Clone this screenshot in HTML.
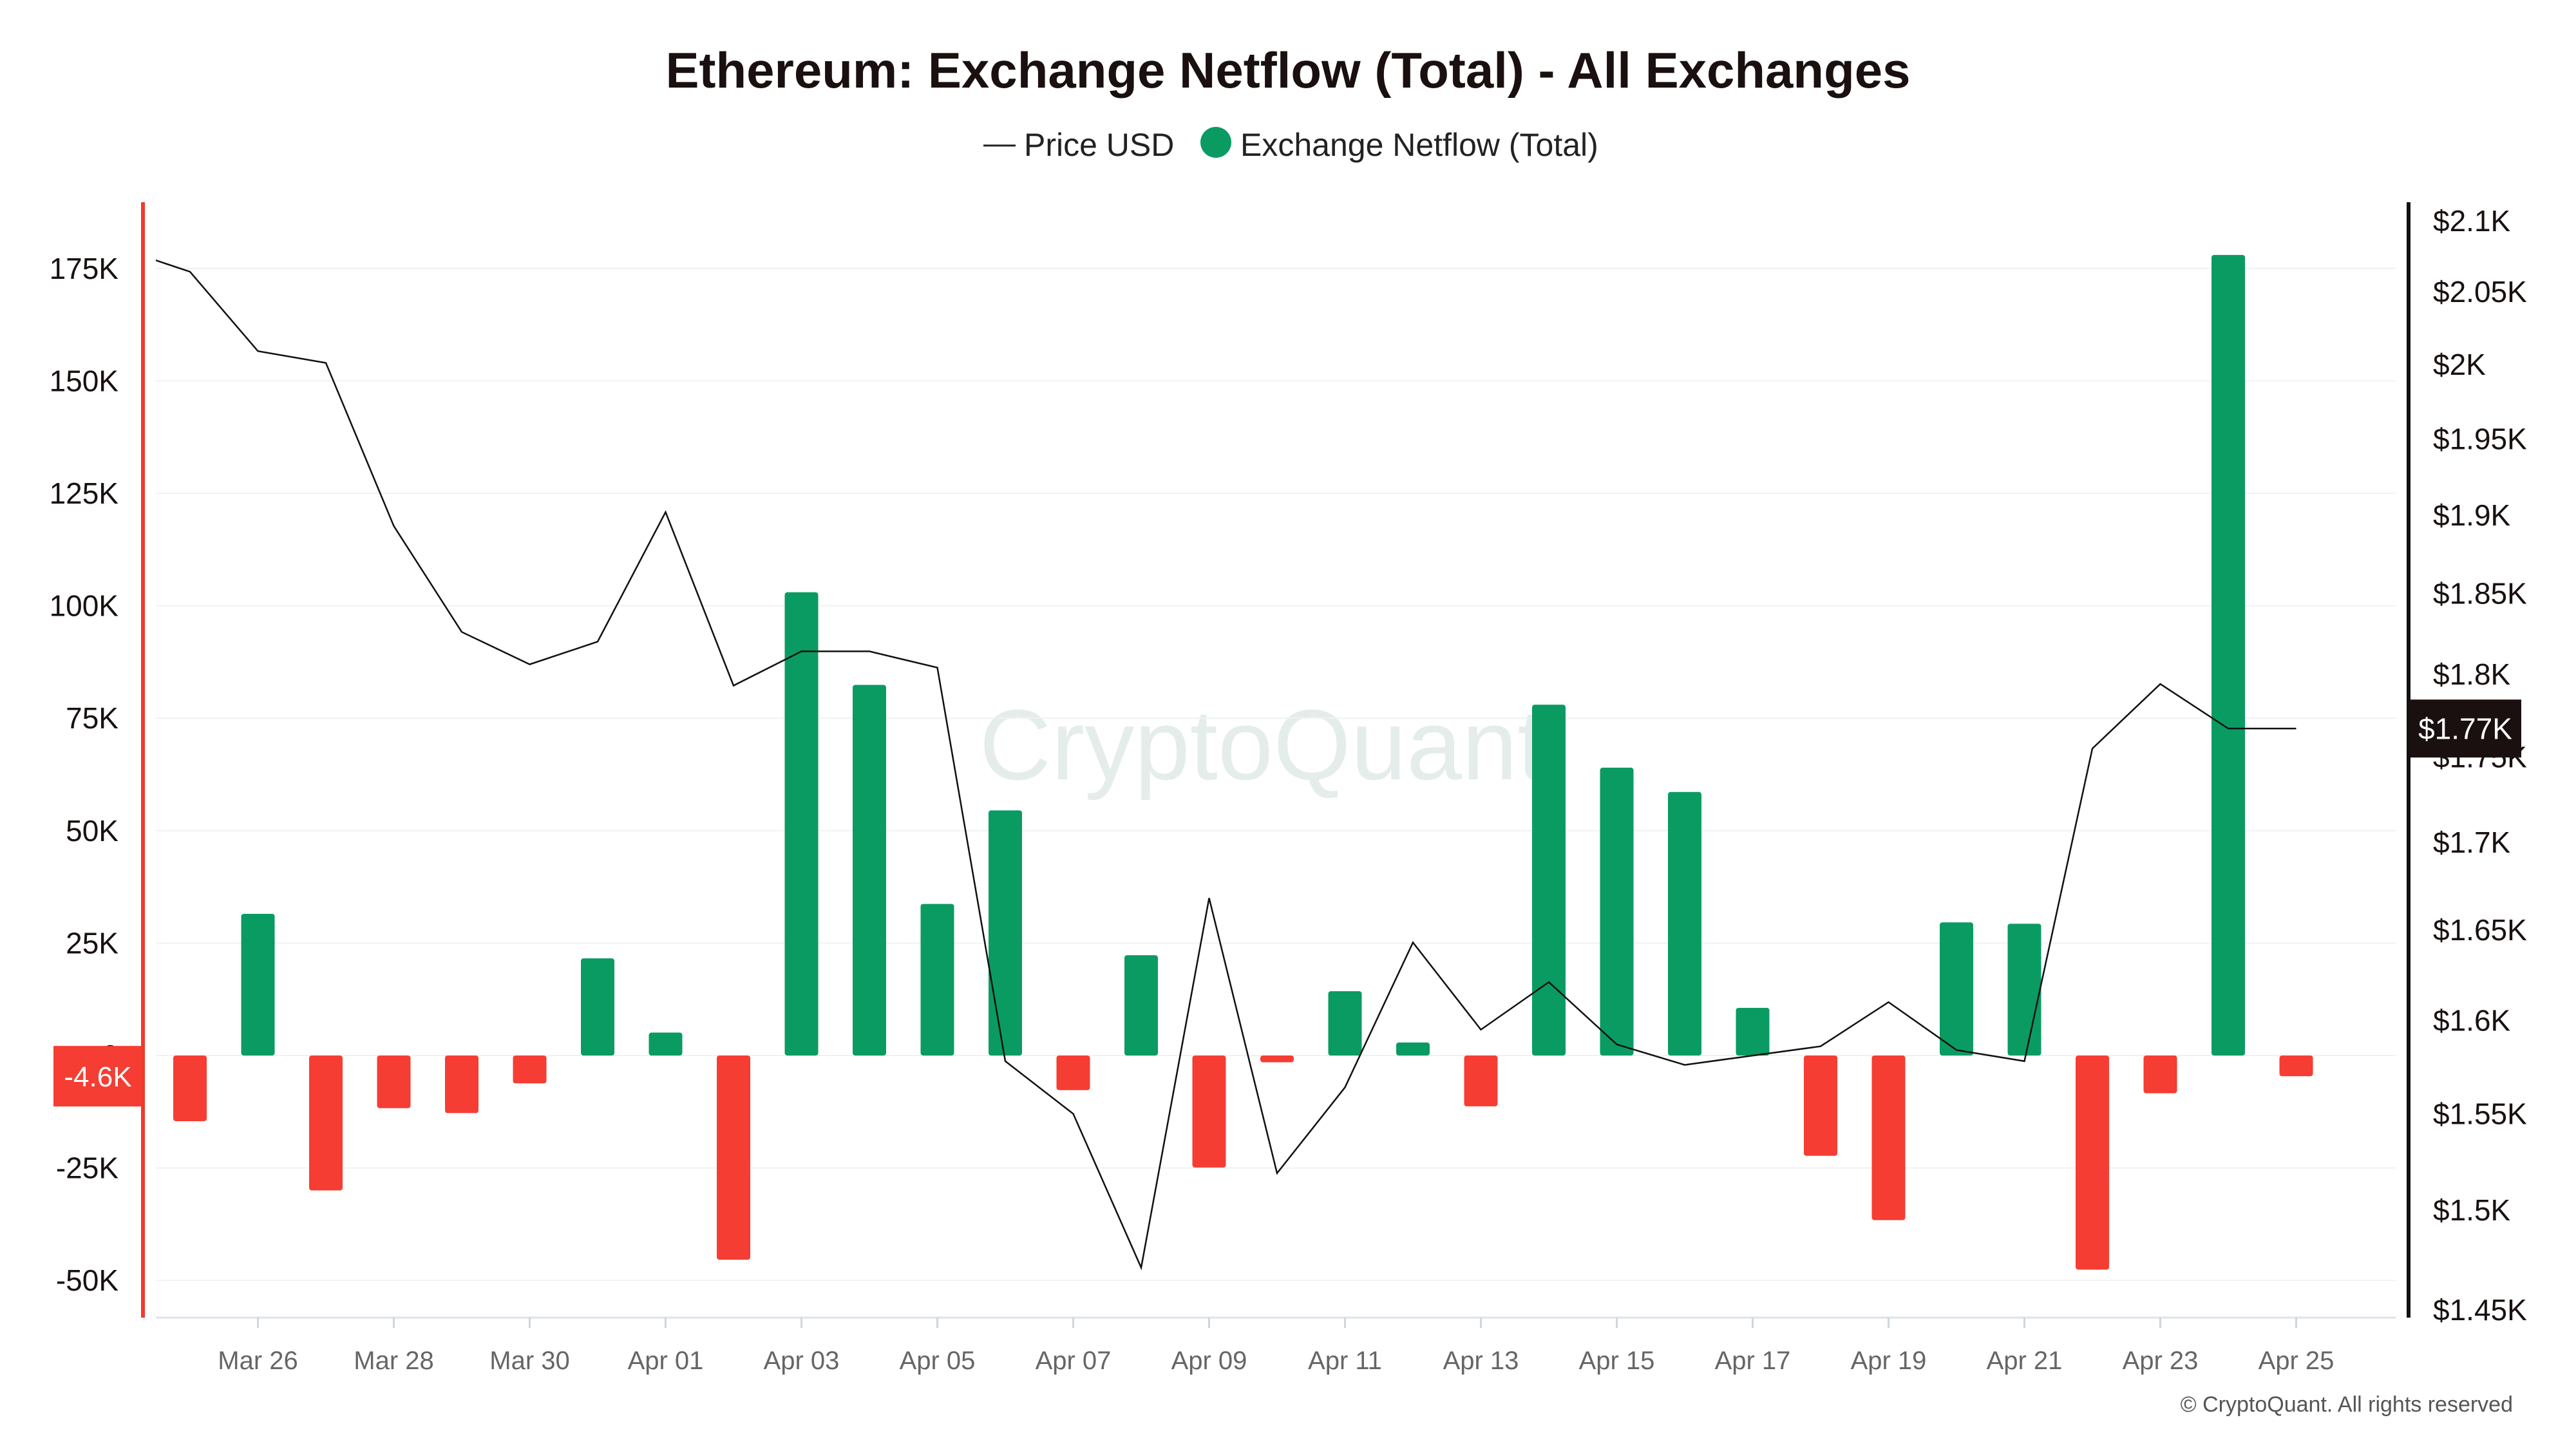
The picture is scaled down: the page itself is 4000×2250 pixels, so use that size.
<!DOCTYPE html>
<html><head><meta charset="utf-8"><style>
html,body{margin:0;padding:0;background:#fff}
svg{display:block;font-family:"Liberation Sans",sans-serif}
</style></head><body>
<svg id="chart" width="4000" height="2250" viewBox="0 0 4000 2250" xmlns="http://www.w3.org/2000/svg">
<defs><clipPath id="plotclip"><rect x="242" y="300" width="3478" height="1746"/></clipPath></defs>
<text x="2000" y="136" text-anchor="middle" font-size="78" font-weight="bold" fill="#1a1010">Ethereum: Exchange Netflow (Total) - All Exchanges</text>
<g>
<g><line x1="1527" y1="226" x2="1577" y2="226" stroke="#222" stroke-width="3"/><text x="1590" y="242" font-size="50" fill="#222">Price USD</text></g>
<g><circle cx="1888" cy="221" r="24" fill="#0a9b63"/><text x="1926" y="242" font-size="50" fill="#222">Exchange Netflow (Total)</text></g>
</g>
<text x="1960" y="1210" text-anchor="middle" font-size="155" fill="#dfe9e7" opacity="0.8">CryptoQuant</text>
<g id="grid"></g>
<g id="bars" clip-path="url(#plotclip)"></g>
<g id="line" clip-path="url(#plotclip)"></g>
<line x1="242" y1="2046" x2="3720" y2="2046" stroke="#dde3ea" stroke-width="3"/>
<line x1="222" y1="314" x2="222" y2="2046" stroke="#f03a30" stroke-width="6"/>
<line x1="3740" y1="314" x2="3740" y2="2046" stroke="#111" stroke-width="6"/>
<g id="lticks"></g>
<g id="rticks"></g>
<g id="xticks"></g>
<g id="badges"></g>
<text x="3902" y="2192" text-anchor="end" font-size="34" fill="#555">© CryptoQuant. All rights reserved</text>
</svg>
<script>
const dates = ["Mar 25","Mar 26","Mar 27","Mar 28","Mar 29","Mar 30","Mar 31","Apr 01","Apr 02","Apr 03","Apr 04","Apr 05","Apr 06","Apr 07","Apr 08","Apr 09","Apr 10","Apr 11","Apr 12","Apr 13","Apr 14","Apr 15","Apr 16","Apr 17","Apr 18","Apr 19","Apr 20","Apr 21","Apr 22","Apr 23","Apr 24","Apr 25"];
const netflow = [-14.6,31.5,-30,-11.7,-12.8,-6.2,21.6,5.1,-45.4,103,82.4,33.7,54.5,-7.7,22.3,-24.9,-1.5,14.3,2.9,-11.3,78,64,58.6,10.6,-22.3,-36.6,29.6,29.3,-47.6,-8.4,178,-4.6];
const pricePrev = 2.080;
const price = [2.064,2.009,2.001,1.893,1.826,1.806,1.820,1.902,1.793,1.814,1.814,1.804,1.578,1.550,1.471,1.668,1.519,1.564,1.643,1.595,1.621,1.587,1.576,1.581,1.586,1.610,1.584,1.578,1.755,1.794,1.767,1.767];
const leftTicks = [-50,-25,0,25,50,75,100,125,150,175];
const leftTickLabels = ["-50K","-25K","0","25K","50K","75K","100K","125K","150K","175K"];
const rightTicks = [1.45,1.5,1.55,1.6,1.65,1.7,1.75,1.8,1.85,1.9,1.95,2.0,2.05,2.1];
const rightTickLabels = ["$1.45K","$1.5K","$1.55K","$1.6K","$1.65K","$1.7K","$1.75K","$1.8K","$1.85K","$1.9K","$1.95K","$2K","$2.05K","$2.1K"];

const NS="http://www.w3.org/2000/svg";
const X0=295, DX=105.5;
const xPos = i => X0 + i*DX;
const yL = v => 1639 - v*(174.6/25);
const yR = p => 343 + Math.log(2.1/p)/Math.log(2.1/1.45)*1691;
function mk(tag, attrs, parent){const e=document.createElementNS(NS,tag);for(const k in attrs)e.setAttribute(k,attrs[k]);parent.appendChild(e);return e;}

const grid=document.getElementById('grid');
leftTicks.forEach(t=>{const l=mk('line',{x1:242,x2:3720,y1:yL(t),y2:yL(t),stroke:'#eef3f2','stroke-width':2},grid);

});

const lt=document.getElementById('lticks');
leftTicks.forEach((t,i)=>{const e=mk('text',{x:184,y:yL(t)+16,'text-anchor':'end','font-size':46,fill:'#1a1010'},lt);e.textContent=leftTickLabels[i];

});
const rt=document.getElementById('rticks');
rightTicks.forEach((t,i)=>{const e=mk('text',{x:3778,y:yR(t)+16,'font-size':46,fill:'#1a1010'},rt);e.textContent=rightTickLabels[i];

});

const bars=document.getElementById('bars');
netflow.forEach((v,i)=>{const y0=yL(0),y1=yL(v);const b=mk('rect',{x:xPos(i)-26,width:52,y:Math.min(y0,y1),height:Math.max(1,Math.abs(y1-y0)),rx:4,fill:v>=0?'#0a9b63':'#f53d33'},bars);

});

const lg=document.getElementById('line');
let d='M'+xPos(-1)+','+yR(pricePrev);
price.forEach((p,i)=>{d+=' L'+xPos(i)+','+yR(p);});
const pl=mk('path',{d:d,fill:'none',stroke:'#111','stroke-width':2.5},lg);



const xt=document.getElementById('xticks');
dates.forEach((dt,i)=>{if(i%2===1){
const tk=mk('line',{x1:xPos(i),x2:xPos(i),y1:2046,y2:2062,stroke:'#cfd6de','stroke-width':3},xt);


const e=mk('text',{x:xPos(i),y:2126,'text-anchor':'middle','font-size':40,fill:'#666'},xt);e.textContent=dt;

}});

const bg=document.getElementById('badges');
const lastN=netflow[netflow.length-1], lastP=price[price.length-1];
const nb=mk('g',{},bg);


mk('rect',{x:83,y:yL(lastN)-47,width:137,height:94,fill:'#f53d33'},nb);
const nt=mk('text',{x:152,y:yL(lastN)+16,'text-anchor':'middle','font-size':44,fill:'#fff'},nb);nt.textContent=lastN.toFixed(1)+'K';
const pb=mk('g',{},bg);


mk('rect',{x:3742,y:yR(lastP)-45,width:173,height:90,fill:'#1a1010'},pb);
const pt=mk('text',{x:3828,y:yR(lastP)+16,'text-anchor':'middle','font-size':46,fill:'#fff'},pb);pt.textContent='$'+lastP.toFixed(2)+'K';
</script>
</body></html>
